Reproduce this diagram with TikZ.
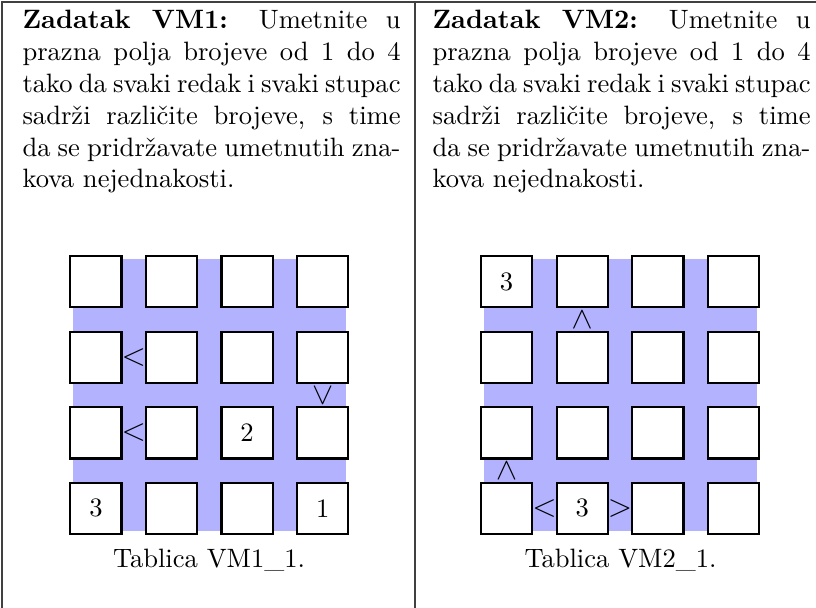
\documentclass[tikz,border=0pt]{standalone}
\usetikzlibrary{calc}
\newcommand{\zbold}[1]{{\fontseries{bx}\selectfont #1}}
\begin{document}
\begin{tikzpicture}[x=0.3764pt,y=-0.3764pt,
  cell/.style={draw=black,line width=0.8pt,fill=white,minimum size=19.3pt,inner sep=0pt,font=\normalsize},
  ineq/.style={inner sep=0pt,font=\large},
  para/.style={anchor=base west,text width=142.3pt,align=justify,inner sep=0pt,font=\normalsize},
  tabrule/.style={line width=0.4pt,draw=black!75},
  bg/.style={fill=blue!30,draw=none},
  capt/.style={anchor=base,inner sep=0pt,font=\normalsize}]
\useasboundingbox (0,0) rectangle (816,608);
\fill[white] (0,0) rectangle (816,608);
% table rules
\coordinate (tl) at (2,608);
\coordinate (tt) at (2,2);
\coordinate (tr) at (816,2);
\coordinate (mt) at (415,2);
\coordinate (mb) at (415,608);
\draw[tabrule] (tl) -- (tt) -- (tr);
\draw[tabrule] (mt) -- (mb);
% texts
\node[para] (t1) at (22,28.5) {\zbold{Zadatak VM1:} Umetnite u\linebreak prazna polja brojeve od 1 do 4\linebreak tako da svaki redak i svaki stupac\linebreak sadrži različite brojeve, s time\linebreak da se pridržavate umetnutih zna-\linebreak kova nejednakosti.};
\node[para] (t2) at (432,28.5) {\zbold{Zadatak VM2:} Umetnite u\linebreak prazna polja brojeve od 1 do 4\linebreak tako da svaki redak i svaki stupac\linebreak sadrži različite brojeve, s time\linebreak da se pridržavate umetnutih zna-\linebreak kova nejednakosti.};
% grid 1
\fill[bg] (73,259) rectangle (346,531);
\foreach \r/\c/\v in {1/1/,1/2/,1/3/,1/4/,2/1/,2/2/,2/3/,2/4/,3/1/,3/2/,3/3/2,3/4/,4/1/3,4/2/,4/3/,4/4/1}
  \node[cell] (a\r\c) at ({95.9+75.6*(\c-1)},{281.6+75.6*(\r-1)}) {\v};
\node[ineq] (s1) at ($(a21.east)!0.5!(a22.west)$) {$<$};
\node[ineq] (s2) at ($(a31.east)!0.5!(a32.west)$) {$<$};
\node[ineq,rotate=90] (s3) at ($(a24.south)!0.5!(a34.north)$) {$<$};
\node[capt] (c1) at (209,567) {Tablica VM1\_1.};
% grid 2
\fill[bg] (484,259) rectangle (757,531);
\foreach \r/\c/\v in {1/1/3,1/2/,1/3/,1/4/,2/1/,2/2/,2/3/,2/4/,3/1/,3/2/,3/3/,3/4/,4/1/,4/2/3,4/3/,4/4/}
  \node[cell] (b\r\c) at ({506.6+75.6*(\c-1)},{281.6+75.6*(\r-1)}) {\v};
\node[ineq,rotate=-90] (u1) at ($(b12.south)!0.5!(b22.north)$) {$<$};
\node[ineq,rotate=-90] (u2) at ($(b31.south)!0.5!(b41.north)$) {$<$};
\node[ineq] (u3) at ($(b41.east)!0.5!(b42.west)$) {$<$};
\node[ineq] (u4) at ($(b42.east)!0.5!(b43.west)$) {$>$};
\node[capt] (c2) at (620.5,567) {Tablica VM2\_1.};
\end{tikzpicture}
\end{document}
